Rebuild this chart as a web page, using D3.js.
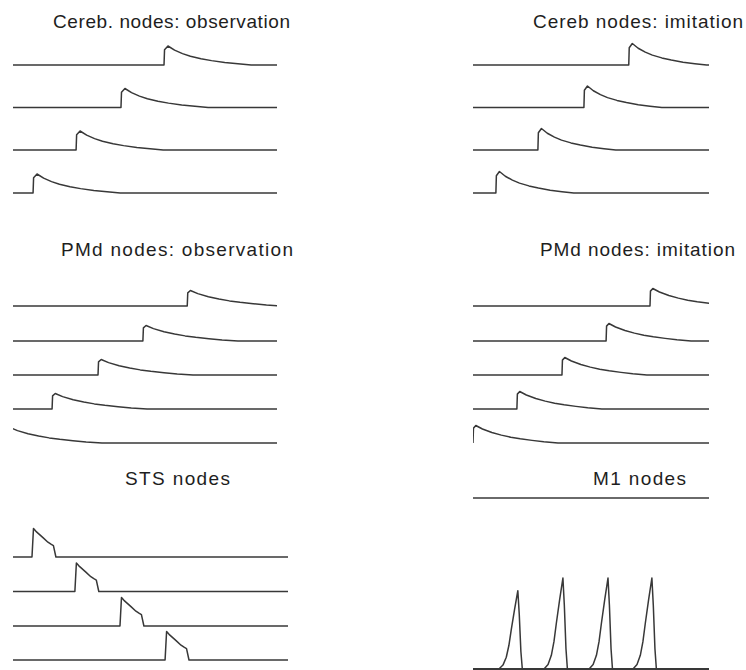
<!DOCTYPE html>
<html>
<head>
<meta charset="utf-8">
<script src="https://cdn.jsdelivr.net/npm/d3@7"></script>
<style>
  html, body { margin: 0; padding: 0; background: #fff; }
  svg { display: block; }
  .title { font-family: "Liberation Sans", Arial, sans-serif; font-size: 19px; fill: #1e1e1e; }
  .trace { fill: none; stroke: #383838; stroke-width: 1.5; stroke-linejoin: round; }
</style>
</head>
<body>
<div id="chart"></div>
<script>
// time runs 0..100 in every panel
const timeDomain = [0, 100];

// pulse shapes (time offset from onset, normalised activity)
const cerebShapeT = [0, 0.2, 1.5, 4, 7, 10, 14, 18, 23, 28, 33];
const cerebShapeV = [0, 0.8, 1.0, 0.78, 0.6, 0.46, 0.33, 0.23, 0.13, 0.06, 0];
const pmdShapeT = [0, 0.2, 1.2, 4, 8, 12, 16, 20, 25, 30, 36];
const pmdShapeV = [0, 0.85, 1.0, 0.8, 0.6, 0.45, 0.33, 0.24, 0.15, 0.07, 0];
const stsShapeT = [0, 0.55, 1.45, 4, 5.8, 6.9, 7.8, 8.7];
const stsShapeV = [0, 1.0, 0.9, 0.68, 0.52, 0.45, 0.4, 0];
const m1ShapeT = [-8, -6.3, -4.9, -3.8, -2.8, -1.4, 0, 0.6, 1.3, 1.9];
const m1ShapeV = [0, 0.05, 0.15, 0.3, 0.5, 0.76, 1.0, 0.7, 0.22, 0];

// onsets per node, top row first
const cerebObsOnsets = [57.2, 40.9, 23.9, 7.6];
const cerebImitOnsets = [66, 47, 27.5, 9.7];
const pmdObsOnsets = [66, 49.2, 32.2, 14.8, -2.3];
const pmdImitOnsets = [75, 56.4, 37.7, 18.6, 0];
const stsOnsets = [6.9, 22.5, 38.9, 55.3];
const m1PeakTimes = [19, 38.1, 57.2, 75.8];
const m1PeakAmps = [0.86, 1, 1, 1];

const titles = ["Cereb. nodes: observation", "Cereb nodes: imitation",
  "PMd nodes: observation", "PMd nodes: imitation", "STS nodes", "M1 nodes"];

const width = 746, height = 670;

const svg = d3.select("#chart").append("svg")
  .attr("width", width)
  .attr("height", height);

// builds a node trace: flat, pulse at onset, flat to the end
function makeTrace(onset, shapeT, shapeV, amp) {
  const pts = [];
  if (onset + shapeT[0] > timeDomain[0]) pts.push([timeDomain[0], 0]);
  shapeT.forEach((t, i) => pts.push([onset + t, shapeV[i] * amp]));
  pts.push([timeDomain[1], 0]);
  return pts;
}

// panel layout (pixels)
const panels = [
  { title: titles[0], tx: [53, 290], ty: 27.5, x: [13, 277], rows: [65, 107.5, 150, 193], h: 19,
    traces: cerebObsOnsets.map(o => makeTrace(o, cerebShapeT, cerebShapeV, 1)) },
  { title: titles[1], tx: [533, 743], ty: 27.5, x: [473, 709], rows: [65, 107.5, 150, 193], h: 21.5,
    traces: cerebImitOnsets.map(o => makeTrace(o, cerebShapeT, cerebShapeV, 1)) },
  { title: titles[2], tx: [61, 293], ty: 256, x: [13, 277], rows: [306, 341, 375, 409, 443], h: 15.5,
    traces: pmdObsOnsets.map(o => makeTrace(o, pmdShapeT, pmdShapeV, 1)) },
  { title: titles[3], tx: [540, 735], ty: 256, x: [473, 709], rows: [306, 341, 375, 409, 443], h: 17.5,
    traces: pmdImitOnsets.map(o => makeTrace(o, pmdShapeT, pmdShapeV, 1)) },
  { title: titles[4], tx: [125, 230], ty: 485, x: [13, 288], rows: [557, 591.5, 626, 660], h: 28.5,
    traces: stsOnsets.map(o => makeTrace(o, stsShapeT, stsShapeV, 1)) },
  // M1: one silent node on top, the four bursts share the bottom baseline
  { title: titles[5], tx: [593, 686], ty: 485, x: [473, 709], rows: [498, 669, 669, 669, 669], h: 91,
    traces: [[[0, 0], [100, 0]]].concat(m1PeakTimes.map((p, i) => makeTrace(p, m1ShapeT, m1ShapeV, m1PeakAmps[i]))) }
];

panels.forEach((p, pi) => {
  const g = svg.append("g");
  const x = d3.scaleLinear().domain(timeDomain).range(p.x);

  g.append("clipPath")
    .attr("id", "clip" + pi)
    .append("rect")
    .attr("x", p.x[0]).attr("y", 0)
    .attr("width", p.x[1] - p.x[0]).attr("height", height);

  g.append("text")
    .attr("class", "title")
    .attr("x", p.tx[0])
    .attr("y", p.ty)
    .attr("textLength", p.tx[1] - p.tx[0])
    .attr("lengthAdjust", "spacing")
    .text(p.title);

  p.traces.forEach((tr, i) => {
    const y = d3.scaleLinear().domain([0, 1]).range([p.rows[i], p.rows[i] - p.h]);
    const line = d3.line().x(d => x(d[0])).y(d => y(d[1]));
    g.append("path")
      .attr("class", "trace")
      .attr("clip-path", `url(#clip${pi})`)
      .attr("d", line(tr));
  });
});
</script>
</body>
</html>
